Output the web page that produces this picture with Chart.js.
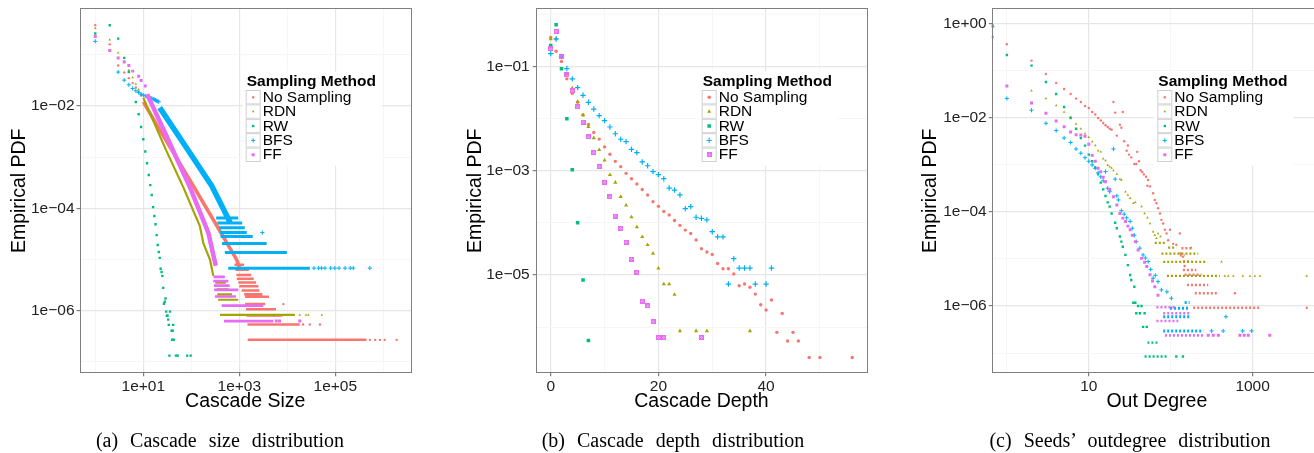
<!DOCTYPE html>
<html>
<head>
<meta charset="utf-8">
<script src="https://cdn.jsdelivr.net/npm/chart.js@4.4.1/dist/chart.umd.min.js"></script>
<style>
body { margin: 0; background: #fff; width: 1314px; height: 453px; overflow: hidden; position: relative; }
canvas { position: absolute; top: -20px; }
.cap { position: absolute; top: 429px; width: 440px; text-align: center; font: 20px "Liberation Serif", "Times New Roman", serif; word-spacing: 7px; color: #000; }
</style>
</head>
<body>
<canvas id="chartSize" width="440" height="460" style="left:0px"></canvas>
<canvas id="chartDepth" width="440" height="460" style="left:440px"></canvas>
<canvas id="chartDegree" width="480" height="460" style="left:880px"></canvas>
<div class="cap" style="left:0px">(a) Cascade size distribution</div>
<div class="cap" style="left:453px">(b) Cascade depth distribution</div>
<div class="cap" style="left:910px">(c) Seeds’ outdegree distribution</div>
<script>
const methods = ["No Sampling", "RDN", "RW", "BFS", "FF"]
const colors = ["#F8766D", "#A3A500", "#00BF7D", "#00B0F6", "#E76BF3"]

// ---- (a) cascade size : points [size, pdf], bands [size, pdf], runs [pdf, sizeFrom, sizeTo]
const sizeNoSampling = [[1,0.38],[2,0.16],[3,0.062],[4,0.045],[5,0.035],[6,0.028],[7,0.023],[8,0.019],[9,0.016],
    [8300,1.35e-6],[21400,5.4e-7],[29500,5.4e-7],[47900,5.4e-7],[525000,2.7e-7],[676000,2.7e-7],[851000,2.7e-7],[1.07e6,2.7e-7],[1.9e6,2.7e-7]]
const sizeNoSamplingBand = [[10,0.012],[30,2.1e-3],[100,3.2e-4],[300,5.6e-5],[880,1.0e-5],[1000,7e-6]]
const sizeNoSamplingRuns = [[7.9e-6,794,1260],[6.3e-6,830,1585],[5.0e-6,870,1780],[4.2e-6,890,2000],[3.55e-6,955,2240],
    [3.0e-6,1000,2500],[2.5e-6,1120,2630],[2.11e-6,1260,3020],[1.87e-6,1320,4170],[1.35e-6,1320,3470],[1.07e-6,1380,5820],
    [8.1e-7,1410,7900],[5.4e-7,1480,18200],[2.7e-7,1500,447000]]

const sizeRDN = [[1,0.33],[2,0.196],[3,0.11],[4,0.075],[5,0.05],[6,0.036],[7,0.027],[8,0.021],[9,0.017],
    [18200,8.3e-7],[24500,8.3e-7],[27500,8.3e-7],[52500,8.3e-7]]
const sizeRDNBand = [[10,0.0145],[30,1.36e-3],[68,2.6e-4],[151,4.5e-5],[178,2.1e-5],[245,1.0e-5],[288,4.8e-6]]
const sizeRDNRuns = [[3.55e-6,316,525],[2.63e-6,339,603],[2.09e-6,347,708],[1.64e-6,363,955],[8.3e-7,398,14450]]

const sizeRW = [[1,0.26],[2,0.377],[3,0.207],[4,0.087],[5,0.046],[7,0.012],[8,6.9e-3],[9,3.9e-3],[10,2.24e-3],[11,1.29e-3],
    [12,7.6e-4],[13,4.5e-4],[14,2.85e-4],[15,1.82e-4],[16,1.06e-4],[17,7.1e-5],[18,4.9e-5],[19,3.0e-5],[20,1.93e-5],[21,1.41e-5],
    [22,1.08e-5],[23,6.6e-6],[24,5.7e-6],[25,4.8e-6],[26,2.8e-6],[27,1.37e-6],[28,1.5e-6],[29,1.74e-6],[30,9.6e-7],[36,9.6e-7],
    [31,8.0e-7],[32,8.0e-7],[33,6.7e-7],[34,5.3e-7],[42,5.3e-7],[39,4.07e-7],[41,4.07e-7],[40,2.72e-7],[43,2.72e-7],
    [35,1.33e-7],[48,1.33e-7],[52,1.33e-7],[82,1.33e-7],[97,1.33e-7]]

const sizeBFS = [[1,0.183],[3,0.046],[4,0.032],[5,0.026],[6,0.022],[7,0.0198],[8,0.0183],[9,0.017],[10,0.0163],[11,0.0158],
    [12,0.0152],[13,0.0149],[14,0.0143],[15,0.0141],[16,0.0136],[17,0.0134],[18,0.013],[19,0.0126],[20,0.0124],[21,0.0121],
    [3020,3.37e-5],[36000,6.8e-6],[45000,6.8e-6],[52000,6.8e-6],[61000,6.8e-6],[80000,6.8e-6],[98000,6.8e-6],[120000,6.8e-6],
    [160000,6.8e-6],[205000,6.8e-6],[237000,6.8e-6],[525000,6.8e-6]]
const sizeBFSBand = [[22,9.3e-3],[60,2.27e-3],[100,1.1e-3],[266,2.77e-4],[450,1.04e-4],[650,5.2e-5]]
const sizeBFSRuns = [[6.5e-5,330,950],[5.2e-5,350,1150],[4.2e-5,380,1300],[3.37e-5,398,1430],[2.81e-5,407,1900],
    [2.06e-5,437,3720],[1.37e-5,500,9800],[6.8e-6,590,29500]]

const sizeFF = [[1,0.227],[2,0.121],[3,0.087],[4,0.072],[5,0.062],[6,0.048],[8,0.038],[9,0.0316],[11,0.0246],
    [5900,6.3e-7],[6900,6.3e-7],[18200,6.3e-7]]
const sizeFFBand = [[12,0.017],[30,2.7e-3],[60,6.4e-4],[94,2.57e-4],[226,3.36e-5],[324,7.6e-6]]
const sizeFFRuns = [[4.6e-6,290,500],[3.8e-6,287,590],[3.1e-6,295,630],[2.55e-6,300,955],[1.9e-6,310,850],
    [1.26e-6,430,3160],[6.3e-7,479,5130]]

// ---- (b) cascade depth : [depth, pdf]
const depthNoSampling = [[0,0.37],[1,0.2],[2,0.127],[3,0.059],[4,0.031],[5,0.021],[6,0.0119],[7,7.8e-3],[8,5.5e-3],[9,4.1e-3],
    [10,2.9e-3],[11,2.09e-3],[12,1.53e-3],[13,1.21e-3],[14,9.0e-4],[15,7.1e-4],[16,5.6e-4],[17,4.4e-4],[18,3.46e-4],[19,2.57e-4],
    [20,2.09e-4],[21,1.67e-4],[22,1.42e-4],[23,1.12e-4],[24,9.0e-5],[25,7.3e-5],[26,6.3e-5],[27,4.7e-5],[28,3.2e-5],[29,2.77e-5],
    [30,2.49e-5],[31,1.67e-5],[32,1.32e-5],[33,1.32e-5],[34,1.05e-5],[35,6.2e-6],[36,6.7e-6],[37,5.8e-6],[38,4.3e-6],[39,2.69e-6],
    [40,2.12e-6],[41,3.3e-6],[42,7.9e-7],[43,1.83e-6],[44,5.4e-7],[45,7.9e-7],[46,5.4e-7],[48,2.6e-7],[50,2.6e-7],[56,2.6e-7]]
const depthRDN = [[0,0.345],[1,0.345],[2,0.158],[3,0.073],[4,0.039],[5,0.0216],[6,0.0119],[7,7.1e-3],[8,4.3e-3],[9,2.54e-3],
    [10,1.6e-3],[11,8.4e-4],[12,6.0e-4],[13,3.2e-4],[14,2.19e-4],[15,1.3e-4],[16,8.4e-5],[17,5.4e-5],[18,3.8e-5],[19,2.6e-5],
    [20,1.34e-5],[21,6.7e-6],[22,6.7e-6],[23,4.2e-6],[24,8.4e-7],[27,8.4e-7],[29,8.4e-7],[37,8.4e-7]]
const depthRW = [[0,0.257],[1,0.65],[2,0.092],[3,0.0101],[4,1.06e-3],[5,1.01e-4],[6,8.0e-6],[7,5.5e-7]]
const depthBFS = [[0,0.18],[1,0.345],[2,0.158],[3,0.093],[4,0.059],[5,0.04],[6,0.0285],[7,0.0209],[8,0.0155],[9,0.0116],
    [10,9.3e-3],[11,7.0e-3],[12,5.2e-3],[13,4.07e-3],[14,3.67e-3],[15,2.61e-3],[16,2.25e-3],[17,1.49e-3],[18,1.26e-3],[19,9.7e-4],
    [20,8.5e-4],[21,7.1e-4],[22,4.7e-4],[23,4.3e-4],[24,3.46e-4],[25,1.89e-4],[26,2.06e-4],[27,1.29e-4],[28,1.23e-4],[29,1.15e-4],
    [30,6.8e-5],[31,5.4e-5],[32,5.4e-5],[33,6.7e-6],[34,2.06e-5],[35,1.36e-5],[36,1.36e-5],[37,1.36e-5],[38,6.7e-6],[40,6.7e-6],[41,1.36e-5]]
const depthFF = [[0,0.222],[1,0.48],[2,0.158],[3,0.07],[4,0.0345],[5,0.017],[6,8.7e-3],[7,4.5e-3],[8,2.25e-3],[9,1.21e-3],
    [10,6.05e-4],[11,3.16e-4],[12,1.36e-4],[13,7.9e-5],[14,4.25e-5],[15,2.0e-5],[16,1.12e-5],[17,3.16e-6],[18,2.54e-6],[19,1.27e-6],
    [20,6.3e-7],[21,6.3e-7],[28,6.3e-7]]

// ---- (c) seeds' out degree : points [degree, pdf], runs [pdf, degreeFrom, degreeTo]
const degreeNoSampling = [[0.667,0.93],[1,0.369],[2,0.166],[3,0.086],[4,0.0556],[5,0.0414],[6,0.0324],[7,0.0258],[8,0.0219],[9,0.018],
    [10,0.0163],[11,0.0134],[12,0.0118],[13,0.01],[14,8.8e-3],[15,7.8e-3],[16,7.0e-3],[17,6.4e-3],[18,5.9e-3],[19,5.6e-3],[20,0.0219],
    [21,0.013],[22,4.2e-3],[24,7.2e-3],[25,6.2e-3],[26,0.0134],[27,3.2e-3],[29,2.0e-3],[30,2.6e-3],[31,1.66e-3],[33,1.45e-3],[36,1.05e-3],
    [38,1.05e-3],[39,1.9e-3],[41,1.2e-3],[43,7.7e-4],[45,7.1e-4],[47,6.3e-4],[50,5.6e-4],[52,3.6e-4],[53,4.8e-4],[56,3.5e-4],[61,2.5e-4],
    [64,1.8e-4],[67,1.53e-4],[70,1.2e-4],[74,9.3e-5],[77,6.8e-5],[81,5.7e-5],[85,4.2e-5],[89,3.5e-5],[93,2.5e-5],[98,4.2e-5],[107,2.1e-5],
    [117,2.0e-5],[129,3.5e-5],[132,1.32e-5],[141,1.12e-5],[148,7.1e-6],[608,1.86e-6],[4580,9.2e-7]]
const degreeNoSamplingRuns = [[1.69e-5,135,186],[1.2e-5,129,148],[8.8e-6,141,178],[5.8e-6,141,206],[4.6e-6,148,238],
    [2.8e-6,158,287],[1.86e-6,197,380],[9.2e-7,188,1200]]

const degreeRDN = [[0.667,0.85],[2,0.038],[3,0.0258],[4,0.0183],[5,0.0134],[6,0.0105],[7,7.4e-3],[8,5.9e-3],[9,4.6e-3],[10,3.9e-3],
    [11,3.1e-3],[12,2.6e-3],[13,2.0e-3],[14,1.9e-3],[15,1.36e-3],[16,1.24e-3],[17,9.8e-4],[18,9.2e-4],[19,8.6e-4],[20,7.6e-4],[22,6.4e-4],
    [24,5.0e-4],[25,4.8e-4],[28,2.7e-4],[30,2.3e-4],[32,1.95e-4],[35,1.53e-4],[37,1.6e-4],[44,1.3e-4],[48,9.3e-5],[52,7.5e-5],[56,5.7e-5],
    [61,3.8e-5],[64,3.2e-5],[67,2.75e-5],[70,3.5e-5],[75,3.0e-5],
    [178,1.74e-5],[417,8.7e-6],[457,4.36e-6],[505,4.36e-6],[581,4.36e-6],[760,4.36e-6],[927,4.36e-6],[1067,4.36e-6],[1230,4.36e-6],[4570,4.36e-6]]
const degreeRDNRuns = [[2.2e-5,64,89],[1.74e-5,93,117],[1.3e-5,77,217],[8.7e-6,81,274],[4.36e-6,90,398]]

const degreeRW = [[0.667,0.53],[1,0.219],[2,0.13],[3,0.058],[4,0.0324],[5,0.0171],[6,0.01],[7,5.9e-3],[8,3.75e-3],[9,2.58e-3],
    [10,1.66e-3],[11,1.2e-3],[12,8.8e-4],[13,6.3e-4],[14,4.2e-4],[15,3.03e-4],[16,2.19e-4],[17,1.6e-4],[18,1.3e-4],[19,9.3e-5],
    [21,5.9e-5],[22,4.5e-5],[24,3.0e-5],[25,2.34e-5],[26,1.82e-5],[28,1.22e-5],[30,7.4e-6],[32,4.57e-6],[33,3.57e-6],[36,2.57e-6],
    [35,1.17e-6],[37,1.17e-6],[40,1.0e-6],[44,1.0e-6],[38,7.0e-7],[42,7.0e-7],[48,7.0e-7],[46,3.6e-7],[51,3.6e-7],
    [117,8.4e-8],[141,8.4e-8]]
const degreeRWRuns = [[1.66e-7,52,70],[8.4e-8,48,89]]

const degreeBFS = [[0.667,0.88],[1,0.026],[2,0.0146],[3,7.7e-3],[4,5.4e-3],[5,3.75e-3],[6,3.0e-3],[7,2.19e-3],[8,1.78e-3],[9,1.43e-3],
    [10,1.2e-3],[11,1.0e-3],[12,8.5e-4],[13,6.8e-4],[14,5.6e-4],[15,4.6e-4],[16,7.2e-4],[17,3.2e-4],[18,2.7e-4],[20,2.19e-3],[21,5.0e-4],
    [22,2.2e-4],[23,1.8e-4],[25,1.07e-4],[27,9.0e-5],[29,7.5e-5],[32,6.3e-5],[34,4.5e-5],[36,3.2e-5],[38,2.34e-5],[42,1.7e-5],[46,1.22e-5],
    [49,1.05e-5],[53,8.8e-6],[57,6.0e-6],[61,3.9e-6],[65,4.5e-6],[70,3.3e-6],[77,2.2e-6],[90,2.0e-6],[102,1.46e-6],
    [472,5.9e-7],[316,2.95e-7],[437,2.95e-7],[755,2.95e-7],[973,2.95e-7]]
const degreeBFSRuns = [[1.18e-6,148,170],[8.9e-7,98,164],[5.9e-7,81,171],[2.95e-7,81,251]]

const degreeFF = [[0.667,0.9],[1,0.048],[2,0.0209],[3,0.0126],[4,8.6e-3],[5,6.5e-3],[6,5.0e-3],[7,4.4e-3],[8,4.35e-3],[9,4.1e-3],
    [10,2.75e-3],[11,1.6e-3],[12,1.2e-3],[13,8.5e-4],[14,7.2e-4],[15,5.5e-4],[16,4.4e-4],[18,3.0e-4],[20,2.1e-4],[22,1.4e-4],[24,9.3e-5],
    [26,7.4e-5],[28,6.3e-5],[30,5.0e-5],[32,4.2e-5],[34,3.2e-5],[37,2.34e-5],[40,1.55e-5],[44,1.03e-5],[48,8.5e-6],[51,6.9e-6],[56,4.6e-6],
    [60,3.4e-6],[64,2.57e-6],[70,1.7e-6],
    [287,2.38e-7],[331,2.38e-7],[381,2.38e-7],[700,2.38e-7],[790,2.38e-7],[885,2.38e-7],[1620,2.38e-7]]
const degreeFFRuns = [[9.4e-7,67,117],[7.0e-7,81,171],[4.8e-7,67,124],[2.38e-7,85,251]]

// ---- ticks
const sizeXMajor = [10, 1e3, 1e5], sizeXMinor = [1, 100, 1e4, 1e6], sizeXLabels = ["1e+01", "1e+03", "1e+05"]
const sizeYMajor = [1e-6, 1e-4, 1e-2], sizeYMinor = [1e-7, 1e-5, 1e-3, 1e-1], sizeYLabels = ["1e−06", "1e−04", "1e−02"]
const depthXMajor = [0, 20, 40], depthXMinor = [10, 30, 50], depthXLabels = ["0", "20", "40"]
const depthYMajor = [1e-5, 1e-3, 1e-1], depthYMinor = [1e-6, 1e-4, 1e-2, 1], depthYLabels = ["1e−05", "1e−03", "1e−01"]
const degreeXMajor = [10, 1000], degreeXMinor = [1, 100], degreeXLabels = ["10", "1000"]
const degreeYMajor = [1e-6, 1e-4, 1e-2, 1], degreeYMinor = [1e-7, 1e-5, 1e-3, 1e-1], degreeYLabels = ["1e−06", "1e−04", "1e−02", "1e+00"]

const sansFont = "'Liberation Sans', Arial, Helvetica, sans-serif"

function boxCross(color, size) {
    const c = document.createElement("canvas")
    c.width = c.height = size
    const g = c.getContext("2d")
    g.fillStyle = color
    g.globalAlpha = 0.55
    g.fillRect(0, 0, size, size)
    g.globalAlpha = 1
    g.strokeStyle = color
    g.lineWidth = 1
    g.strokeRect(0.5, 0.5, size - 1, size - 1)
    g.beginPath()
    g.moveTo(0, 0); g.lineTo(size, size)
    g.moveTo(size, 0); g.lineTo(0, size)
    g.stroke()
    return c
}

const smallMarks = [
    {style: "circle", r: 1.2, bw: 0, band: 3.5, run: 2.5},
    {style: "triangle", r: 1.5, bw: 0, band: 2.2, run: 2.2},
    {style: "rect", r: 1.7, bw: 0, band: 3, run: 2.4},
    {style: "cross", r: 2.1, bw: 1, band: 5.5, run: 3},
    {style: "rect", r: 2.1, bw: 0, band: 4.5, run: 2.7}
]
const depthMarks = [
    {style: "circle", r: 1.7, bw: 0},
    {style: "triangle", r: 2.4, bw: 0},
    {style: "rect", r: 2.5, bw: 0},
    {style: "cross", r: 2.7, bw: 1.2},
    {style: boxCross(colors[4], 5), r: 3, bw: 0}
]

function tickList(major, minor, labels) {
    return major.map((v, i) => ({value: v, major: true, lbl: labels[i]}))
        .concat(minor.map(v => ({value: v, major: false, lbl: ""})))
        .sort((a, b) => a.value - b.value)
}

function makeAxis(o) {
    const ticks = tickList(o.major, o.minor, o.labels)
    const horiz = o.position === "bottom"
    return {
        type: o.type, min: o.min, max: o.max, position: o.position, offset: false,
        afterBuildTicks: s => { s.ticks = ticks.map(t => Object.assign({}, t)) },
        afterFit: s => { if (horiz) s.height = o.size; else s.width = o.size },
        ticks: {
            autoSkip: false, maxRotation: 0, minRotation: 0, padding: o.tickPad,
            color: "#222", font: {family: sansFont, size: 15.5},
            callback: (v, i, t) => t[i].lbl
        },
        grid: {
            color: c => c.tick && c.tick.major ? "#E6E6E6" : "#F6F6F6",
            lineWidth: c => c.tick && c.tick.major ? 1.2 : 1,
            tickColor: c => c.tick && c.tick.major ? "#7F7F7F" : "rgba(0,0,0,0)",
            tickLength: 3
        },
        border: {display: false},
        title: {display: true, text: o.title, color: "#000", font: {family: sansFont, size: 19.5}, padding: o.titlePad}
    }
}

function seriesDatasets(series, marks, runDash) {
    const out = []
    series.forEach((s, i) => {
        const m = marks[i], col = colors[i], base = (5 - i) * 10
        out.push({
            label: methods[i], data: s.pts.map(p => ({x: p[0], y: p[1]})),
            pointStyle: m.style, pointRadius: m.r, pointBorderWidth: m.bw,
            backgroundColor: col, borderColor: col, pointBackgroundColor: col, pointBorderColor: col,
            showLine: false, order: base, clip: 0
        })
        if (s.band) out.push({
            data: s.band.map(p => ({x: p[0], y: p[1]})), showLine: true, pointRadius: 0,
            borderColor: col, borderWidth: m.band, borderCapStyle: "butt", borderJoinStyle: "round",
            order: base + 1, clip: 0
        })
        if (s.runs) {
            const d = []
            s.runs.forEach(r => { d.push({x: r[1], y: r[0]}, {x: r[2], y: r[0]}, {x: r[2], y: null}) })
            out.push({
                data: d, showLine: true, spanGaps: false, pointRadius: 0,
                borderColor: col, borderWidth: m.run, borderDash: runDash,
                order: base + 2, clip: 0
            })
        }
    })
    return out
}

const ggPanel = {
    id: "ggPanel",
    afterDatasetsDraw(chart, args, opts) {
        const ctx = chart.ctx, a = chart.chartArea, x = opts.x
        ctx.save()
        // legend
        ctx.fillStyle = "#fff"
        ctx.fillRect(x - 3, 91.7, 139, 94)
        ctx.fillStyle = "#000"
        ctx.font = "bold 15.5px " + sansFont
        ctx.textBaseline = "alphabetic"
        ctx.fillText("Sampling Method", x + 1, 106)
        ctx.font = "15.5px " + sansFont
        methods.forEach((name, i) => {
            const top = 110 + i * 14.4
            ctx.fillStyle = "#fff"
            ctx.fillRect(x, top, 15, 14.4)
            ctx.strokeStyle = "#D0D0D0"
            ctx.lineWidth = 1
            ctx.strokeRect(x + 0.5, top + 0.5, 14, 13.4)
            ctx.fillStyle = colors[i]
            ctx.strokeStyle = colors[i]
            const m = opts.marks[i]
            Chart.helpers.drawPoint(ctx, {pointStyle: m.style, radius: m.r, borderWidth: m.bw, rotation: 0}, x + 7.5, top + 7.2)
            ctx.fillStyle = "#000"
            ctx.fillText(name, x + 17, top + 11.7)
        })
        // panel border
        ctx.strokeStyle = "#7F7F7F"
        ctx.lineWidth = 1
        ctx.strokeRect(Math.round(a.left) + 0.5, Math.round(a.top) + 0.5, Math.round(a.right - a.left) - 1, Math.round(a.bottom - a.top) - 1)
        ctx.restore()
    }
}

function makeChart(id, datasets, xAxis, yAxis, padRight, legendX, marks) {
    return new Chart(document.getElementById(id), {
        type: "scatter",
        data: {datasets: datasets},
        options: {
            responsive: false, animation: false, events: [],
            layout: {padding: {left: 0, top: 28.3, right: padRight, bottom: 27}},
            plugins: {legend: {display: false}, tooltip: {enabled: false}, ggPanel: {x: legendX, marks: marks}},
            scales: {x: xAxis, y: yAxis}
        },
        plugins: [ggPanel]
    })
}

makeChart("chartSize",
    seriesDatasets([
        {pts: sizeNoSampling, band: sizeNoSamplingBand, runs: sizeNoSamplingRuns},
        {pts: sizeRDN, band: sizeRDNBand, runs: sizeRDNRuns},
        {pts: sizeRW},
        {pts: sizeBFS, band: sizeBFSBand, runs: sizeBFSRuns},
        {pts: sizeFF, band: sizeFFBand, runs: sizeFFRuns}
    ], smallMarks, []),
    makeAxis({type: "logarithmic", position: "bottom", min: 0.469, max: 3.78e6, major: sizeXMajor, minor: sizeXMinor,
        labels: sizeXLabels, size: 39.7, tickPad: 1, title: "Cascade Size", titlePad: {top: 0, bottom: 0}}),
    makeAxis({type: "logarithmic", position: "left", min: 6.3e-8, max: 0.81, major: sizeYMajor, minor: sizeYMinor,
        labels: sizeYLabels, size: 79.5, tickPad: 2, title: "Empirical PDF", titlePad: {top: 8, bottom: 0}}),
    29, 245.7, smallMarks)

makeChart("chartDepth",
    seriesDatasets([
        {pts: depthNoSampling}, {pts: depthRDN}, {pts: depthRW}, {pts: depthBFS}, {pts: depthFF}
    ], depthMarks, []),
    makeAxis({type: "linear", position: "bottom", min: -2.79, max: 58.8, major: depthXMajor, minor: depthXMinor,
        labels: depthXLabels, size: 39.7, tickPad: 1, title: "Cascade Depth", titlePad: {top: 0, bottom: 0}}),
    makeAxis({type: "logarithmic", position: "left", min: 1.29e-7, max: 1.34, major: depthYMajor, minor: depthYMinor,
        labels: depthYLabels, size: 95.7, tickPad: 3, title: "Empirical PDF", titlePad: {top: 23.5, bottom: 0}}),
    12.7, 261.7, depthMarks)

makeChart("chartDegree",
    seriesDatasets([
        {pts: degreeNoSampling, runs: degreeNoSamplingRuns},
        {pts: degreeRDN, runs: degreeRDNRuns},
        {pts: degreeRW, runs: degreeRWRuns},
        {pts: degreeBFS, runs: degreeBFSRuns},
        {pts: degreeFF, runs: degreeFFRuns}
    ], smallMarks, [2, 2]),
    makeAxis({type: "logarithmic", position: "bottom", min: 0.653, max: 7030, major: degreeXMajor, minor: degreeXMinor,
        labels: degreeXLabels, size: 39.7, tickPad: 1, title: "Out Degree", titlePad: {top: 0, bottom: 0}}),
    makeAxis({type: "logarithmic", position: "left", min: 3.7e-8, max: 2.15, major: degreeYMajor, minor: degreeYMinor,
        labels: degreeYLabels, size: 111.7, tickPad: 2, title: "Empirical PDF", titlePad: {top: 39, bottom: 0}}),
    38, 277.3, smallMarks)
</script>
</body>
</html>
